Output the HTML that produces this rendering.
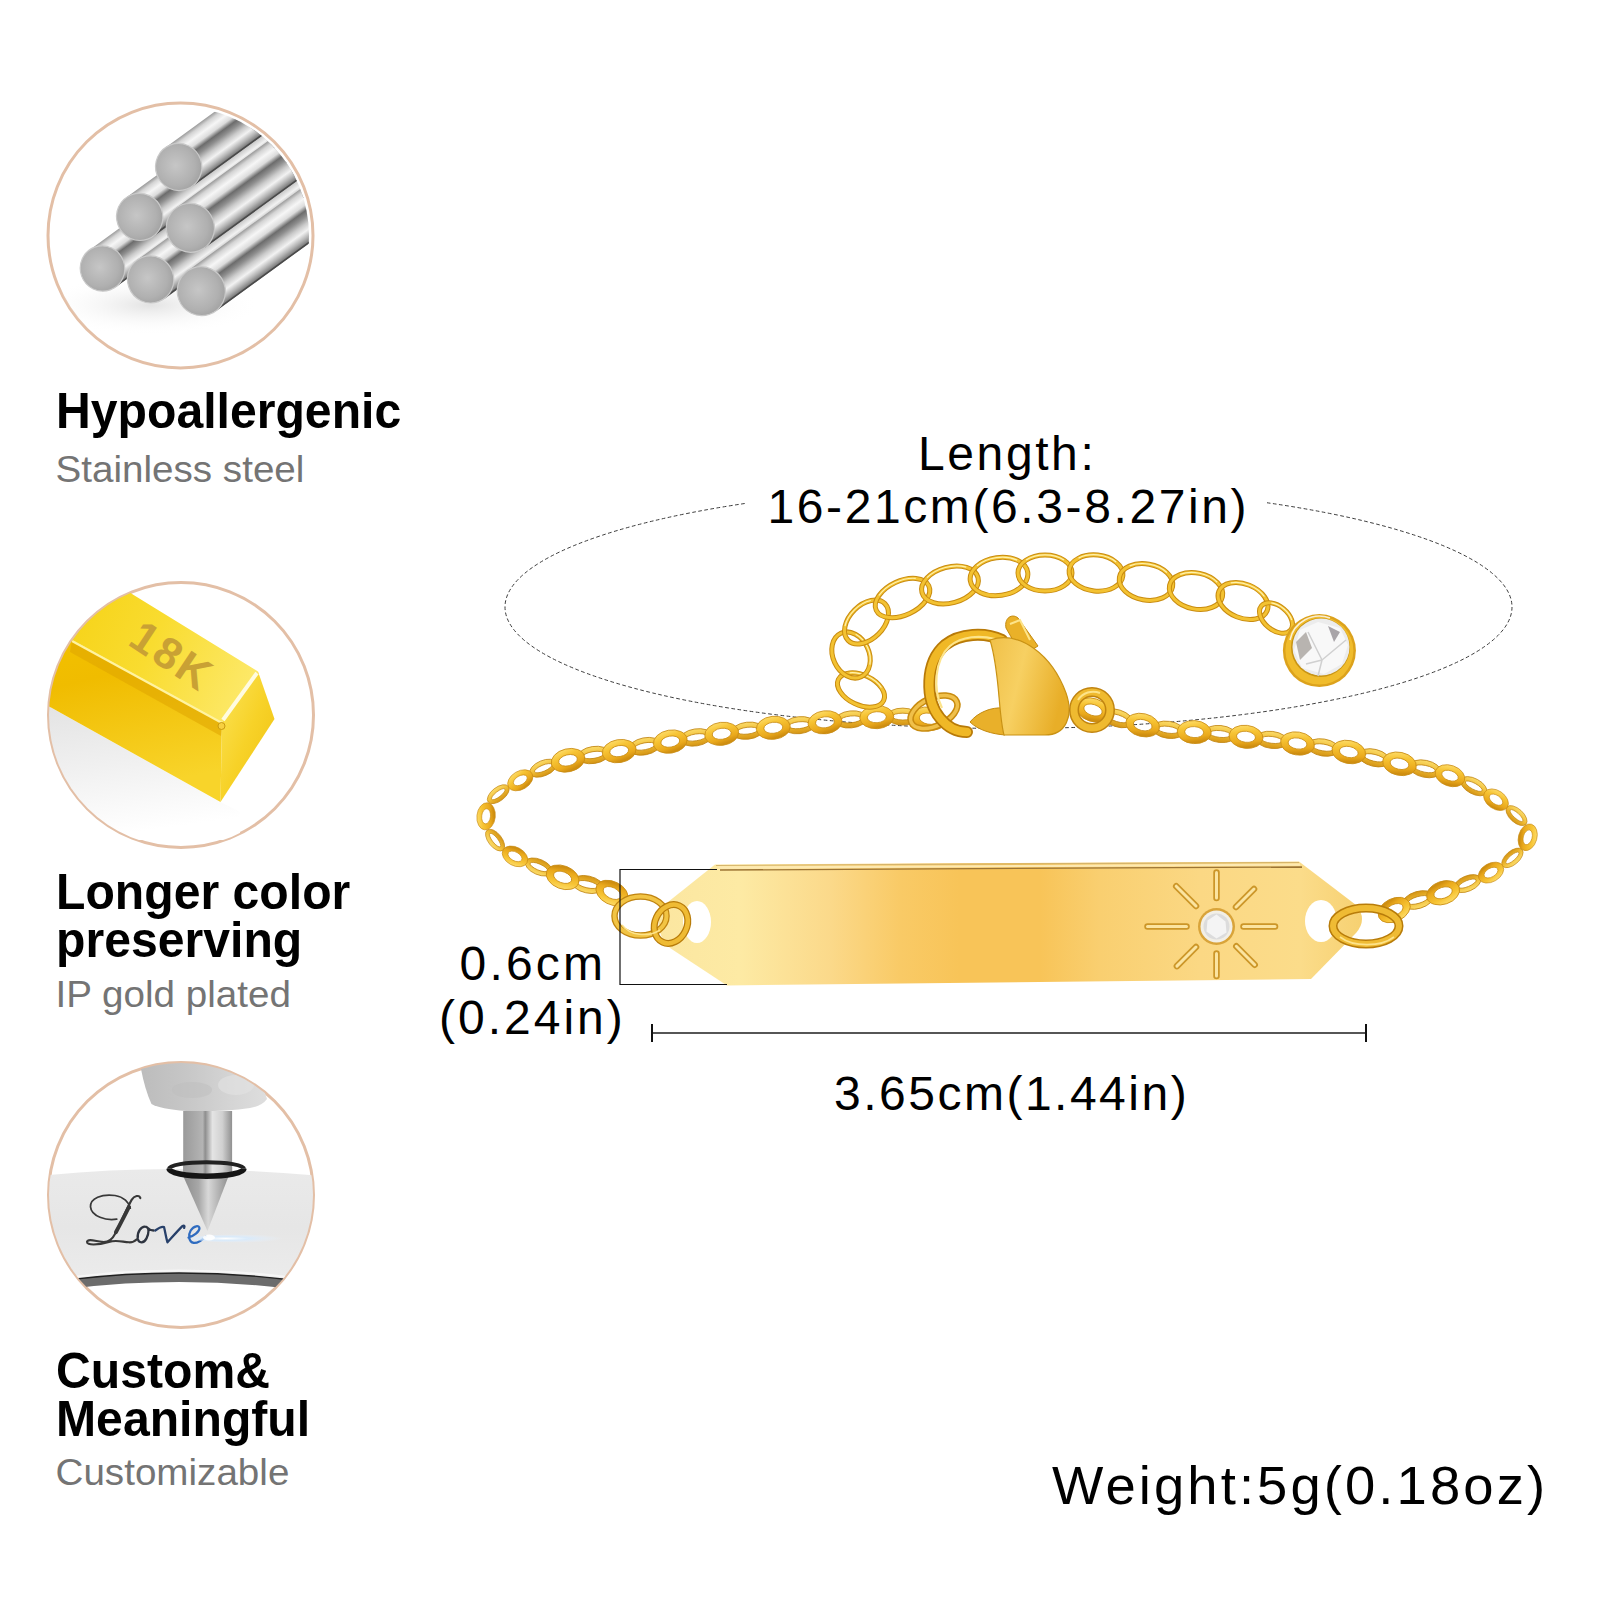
<!DOCTYPE html>
<html><head><meta charset="utf-8"><title>Bracelet</title>
<style>
html,body{margin:0;padding:0;background:#fff;}
body{width:1600px;height:1600px;overflow:hidden;position:relative;font-family:"Liberation Sans",sans-serif;}
svg{position:absolute;left:0;top:0;display:block;}
</style></head><body>
<svg width="1600" height="1600" viewBox="0 0 1600 1600">
<defs>
<linearGradient id="rodg" x1="0" y1="0" x2="0" y2="1">
 <stop offset="0" stop-color="#9a9a9a"/>
 <stop offset="0.08" stop-color="#d4d4d4"/>
 <stop offset="0.2" stop-color="#f6f6f6"/>
 <stop offset="0.32" stop-color="#dcdcdc"/>
 <stop offset="0.42" stop-color="#6c6c6c"/>
 <stop offset="0.52" stop-color="#8e8e8e"/>
 <stop offset="0.64" stop-color="#cacaca"/>
 <stop offset="0.76" stop-color="#f2f2f2"/>
 <stop offset="0.88" stop-color="#b4b4b4"/>
 <stop offset="1" stop-color="#6a6a6a"/>
</linearGradient>
<radialGradient id="faceg" cx="0.45" cy="0.45" r="0.6">
 <stop offset="0" stop-color="#c6c6c6"/>
 <stop offset="0.7" stop-color="#b0b0b0"/>
 <stop offset="1" stop-color="#a0a0a0"/>
</radialGradient>
<linearGradient id="barg" x1="652" y1="0" x2="1365" y2="0" gradientUnits="userSpaceOnUse">
 <stop offset="0" stop-color="#fbe6a0"/>
 <stop offset="0.123" stop-color="#fdeaa4"/>
 <stop offset="0.25" stop-color="#fbd98a"/>
 <stop offset="0.348" stop-color="#f9ca66"/>
 <stop offset="0.432" stop-color="#f8c458"/>
 <stop offset="0.544" stop-color="#f8c458"/>
 <stop offset="0.628" stop-color="#f9cf70"/>
 <stop offset="0.769" stop-color="#fbd884"/>
 <stop offset="0.909" stop-color="#fbdc8a"/>
 <stop offset="1" stop-color="#f6d070"/>
</linearGradient>
<linearGradient id="goldtop" x1="40" y1="600" x2="260" y2="700" gradientUnits="userSpaceOnUse">
 <stop offset="0" stop-color="#f5d010"/>
 <stop offset="0.5" stop-color="#f9dc30"/>
 <stop offset="1" stop-color="#fdea70"/>
</linearGradient>
<linearGradient id="goldfront" x1="0" y1="0" x2="0.25" y2="1">
 <stop offset="0" stop-color="#f3c200"/>
 <stop offset="0.35" stop-color="#f0bc00"/>
 <stop offset="1" stop-color="#f8d42a"/>
</linearGradient>
<linearGradient id="goldend" x1="0" y1="0" x2="1" y2="1">
 <stop offset="0" stop-color="#fbe45a"/>
 <stop offset="0.5" stop-color="#f7d228"/>
 <stop offset="1" stop-color="#efc010"/>
</linearGradient>
<radialGradient id="shadowg" cx="0.5" cy="0.5" r="0.5">
 <stop offset="0" stop-color="#d0d0d0"/>
 <stop offset="1" stop-color="#ffffff" stop-opacity="0"/>
</radialGradient>
<linearGradient id="chg" x1="0" y1="0" x2="0" y2="1">
 <stop offset="0" stop-color="#fbe070"/>
 <stop offset="0.5" stop-color="#eab020"/>
 <stop offset="1" stop-color="#c98c0a"/>
</linearGradient>
<radialGradient id="gemg" cx="0.45" cy="0.4" r="0.6">
 <stop offset="0" stop-color="#ffffff"/>
 <stop offset="0.6" stop-color="#e8e8e8"/>
 <stop offset="1" stop-color="#c8c8c8"/>
</radialGradient>
<linearGradient id="lkg" x1="0" y1="0" x2="0.3" y2="1">
 <stop offset="0" stop-color="#ffe47c"/>
 <stop offset="0.4" stop-color="#f7c434"/>
 <stop offset="0.8" stop-color="#eaa91c"/>
 <stop offset="1" stop-color="#cf8e10"/>
</linearGradient>
<linearGradient id="lkg2" x1="0" y1="0" x2="0" y2="1">
 <stop offset="0" stop-color="#fbdc6a"/>
 <stop offset="0.5" stop-color="#f0bc34"/>
 <stop offset="1" stop-color="#d49414"/>
</linearGradient>
<linearGradient id="claspg" x1="0" y1="0" x2="1" y2="0.3">
 <stop offset="0" stop-color="#f0c048"/>
 <stop offset="0.45" stop-color="#f7d062"/>
 <stop offset="1" stop-color="#e8ae28"/>
</linearGradient>
<linearGradient id="gshadow" x1="0" y1="0" x2="0.2" y2="1">
 <stop offset="0" stop-color="#e2e2e2"/>
 <stop offset="0.5" stop-color="#f0f0f0"/>
 <stop offset="1" stop-color="#ffffff"/>
</linearGradient>
<linearGradient id="bandg" x1="0" y1="0" x2="0" y2="1">
 <stop offset="0" stop-color="#eaeaea"/>
 <stop offset="0.5" stop-color="#e6e6e6"/>
 <stop offset="1" stop-color="#ececec"/>
</linearGradient>
<linearGradient id="feltg" x1="0" y1="0" x2="1" y2="0">
 <stop offset="0" stop-color="#bcbcbc"/>
 <stop offset="0.35" stop-color="#c6c6c6"/>
 <stop offset="0.7" stop-color="#d4d4d4"/>
 <stop offset="1" stop-color="#dedede"/>
</linearGradient>
<linearGradient id="cylg" x1="0" y1="0" x2="1" y2="0">
 <stop offset="0" stop-color="#9a9a9a"/>
 <stop offset="0.4" stop-color="#b4b4b4"/>
 <stop offset="0.45" stop-color="#8e8e8e"/>
 <stop offset="0.6" stop-color="#e4e4e4"/>
 <stop offset="0.8" stop-color="#d0d0d0"/>
 <stop offset="1" stop-color="#909090"/>
</linearGradient>
<linearGradient id="coneg" x1="0" y1="0" x2="1" y2="0">
 <stop offset="0" stop-color="#8a8a8a"/>
 <stop offset="0.35" stop-color="#a8a8a8"/>
 <stop offset="0.55" stop-color="#d8d8d8"/>
 <stop offset="1" stop-color="#8c8c8c"/>
</linearGradient>
<linearGradient id="glowg" x1="0" y1="0" x2="1" y2="0">
 <stop offset="0" stop-color="#9fd0ff" stop-opacity="0.9"/>
 <stop offset="0.5" stop-color="#d8ecff" stop-opacity="0.6"/>
 <stop offset="1" stop-color="#ffffff" stop-opacity="0"/>
</linearGradient>
<radialGradient id="glowr" cx="0.35" cy="0.5" r="0.6">
 <stop offset="0" stop-color="#ffffff" stop-opacity="1"/>
 <stop offset="0.4" stop-color="#d6ebff" stop-opacity="0.8"/>
 <stop offset="1" stop-color="#e8f2ff" stop-opacity="0"/>
</radialGradient>
<clipPath id="c1"><circle cx="180.5" cy="235.5" r="132"/></clipPath>
<clipPath id="c1b"><circle cx="180.5" cy="235.5" r="128.5"/></clipPath>
<clipPath id="c2"><circle cx="181" cy="715" r="132"/></clipPath>
<clipPath id="c3"><circle cx="181" cy="1195" r="132"/></clipPath>
</defs>
<rect width="1600" height="1600" fill="#fff"/>
<g>
<circle cx="180.5" cy="235.5" r="132.5" fill="#fff" stroke="#e3bfa6" stroke-width="3"/>
<g clip-path="url(#c1)"><ellipse cx="150" cy="305" rx="110" ry="30" fill="url(#shadowg)" opacity="0.6"/></g>
<g clip-path="url(#c1b)">
<g transform="translate(102.5,268.5) rotate(-36)"><rect x="0" y="-22.7" width="220" height="45.4" fill="url(#rodg)"/><line x1="0" y1="22.1" x2="220" y2="22.1" stroke="#4a4a4a" stroke-width="1.6"/></g>
<g transform="translate(139.7,216.9) rotate(-36)"><rect x="0" y="-23.6" width="220" height="47.2" fill="url(#rodg)"/><line x1="0" y1="23" x2="220" y2="23" stroke="#4a4a4a" stroke-width="1.6"/></g>
<g transform="translate(150.6,279.4) rotate(-36)"><rect x="0" y="-23.6" width="220" height="47.2" fill="url(#rodg)"/><line x1="0" y1="23" x2="220" y2="23" stroke="#4a4a4a" stroke-width="1.6"/></g>
<g transform="translate(178.7,167) rotate(-36)"><rect x="0" y="-23.6" width="220" height="47.2" fill="url(#rodg)"/><line x1="0" y1="23" x2="220" y2="23" stroke="#4a4a4a" stroke-width="1.6"/></g>
<g transform="translate(190.4,227.8) rotate(-36)"><rect x="0" y="-24.5" width="220" height="49" fill="url(#rodg)"/><line x1="0" y1="23.9" x2="220" y2="23.9" stroke="#4a4a4a" stroke-width="1.6"/></g>
<g transform="translate(201.3,291.2) rotate(-36)"><rect x="0" y="-24.5" width="220" height="49" fill="url(#rodg)"/><line x1="0" y1="23.9" x2="220" y2="23.9" stroke="#4a4a4a" stroke-width="1.6"/></g>
</g>
<ellipse cx="178.7" cy="167" rx="23.1" ry="23.6" transform="rotate(-20 178.7 167)" fill="url(#faceg)" stroke="#c9c9c9" stroke-width="1.2"/>
<ellipse cx="139.7" cy="216.9" rx="23.1" ry="23.6" transform="rotate(-20 139.7 216.9)" fill="url(#faceg)" stroke="#c9c9c9" stroke-width="1.2"/>
<ellipse cx="190.4" cy="227.8" rx="24" ry="24.5" transform="rotate(-20 190.4 227.8)" fill="url(#faceg)" stroke="#c9c9c9" stroke-width="1.2"/>
<ellipse cx="102.5" cy="268.5" rx="22.2" ry="22.7" transform="rotate(-20 102.5 268.5)" fill="url(#faceg)" stroke="#c9c9c9" stroke-width="1.2"/>
<ellipse cx="150.6" cy="279.4" rx="23.1" ry="23.6" transform="rotate(-20 150.6 279.4)" fill="url(#faceg)" stroke="#c9c9c9" stroke-width="1.2"/>
<ellipse cx="201.3" cy="291.2" rx="24" ry="24.5" transform="rotate(-20 201.3 291.2)" fill="url(#faceg)" stroke="#c9c9c9" stroke-width="1.2"/>
</g>
<circle cx="181" cy="715" r="132.5" fill="#fff" stroke="#e3bfa6" stroke-width="3"/>
<g clip-path="url(#c2)">
<path d="M40,700 L51,707.5 L220.5,802 L240,812 L240,840 L40,840 Z" fill="url(#gshadow)"/>
<polygon points="30,628 72,640 222,722.5 220.5,802 51,707.5 30,696" fill="url(#goldfront)"/>
<polygon points="72,640 222,722.5 221,736 70,652" fill="#dea400" opacity="0.55"/>
<polygon points="131.2,593.5 258,671.5 222,722.5 72,640 30,628 30,560 110,560" fill="url(#goldtop)"/>
<polygon points="222,722.5 258,671.5 274.5,719 220.5,802" fill="url(#goldend)"/>
<polyline points="72,641 222,723" stroke="#fff3a0" stroke-width="2.2" fill="none"/>
<polyline points="223,720 257,673" stroke="#fffbe0" stroke-width="4" fill="none"/>
<circle cx="221.5" cy="726" r="3.5" fill="#f7d040" stroke="#c99a10" stroke-width="1"/>
<text x="0" y="0" transform="translate(126.5,644) rotate(33.5)" font-family="Liberation Sans" font-weight="bold" font-size="44" fill="#c9a134" letter-spacing="3">18K</text>
</g>
<circle cx="181" cy="1195" r="132.5" fill="#fff" stroke="#e3bfa6" stroke-width="3"/>
<g clip-path="url(#c3)">
<path d="M40,1176 Q167,1162 322,1176 L322,1285 Q178,1266 40,1285 Z" fill="url(#bandg)"/>
<path d="M60,1281 Q178,1265 300,1281 L300,1290 Q178,1274 60,1290 Z" fill="#6c6c6c"/>
<path d="M60,1281 Q178,1265 300,1281" stroke="#202020" stroke-width="1.3" fill="none"/>
<path d="M60,1278.5 Q178,1262.5 300,1278.5" stroke="#f6f6f6" stroke-width="2" fill="none"/>
<path d="M140,1055 L240,1055 Q262,1080 267,1099 Q262,1106 250,1108 Q222,1112 186,1111 Q160,1109 151.5,1104 Q145,1090 141,1069 Z" fill="url(#feltg)"/>
<ellipse cx="192" cy="1090" rx="20" ry="8" fill="#bdbdbd" opacity="0.5"/>
<ellipse cx="236" cy="1085" rx="18" ry="10" fill="#e2e2e2" opacity="0.6"/>
<rect x="183.2" y="1111" width="48.9" height="60" fill="url(#cylg)"/>
<polygon points="182.3,1174 229.4,1174 207.5,1231" fill="url(#coneg)"/>
<path d="M169,1168.7 A37.5,6.5 0 0,1 244,1168.7" fill="none" stroke="#222" stroke-width="4"/>
<path d="M183.2,1166 L232.1,1166 L232.1,1174 L183.2,1174 Z" fill="url(#cylg)"/>
<path d="M169,1168.7 A37.5,7.5 0 0,0 244,1168.7" fill="none" stroke="#151515" stroke-width="5.5"/>
<g transform="translate(80,1185) scale(0.0875)" fill="none" stroke-linecap="round" stroke-linejoin="round"><path d="M420,390 C300,410 130,360 120,250 C115,150 250,100 400,120 C500,135 560,200 575,265" stroke="#383838" stroke-width="20"/><path d="M690,150 C680,110 620,120 590,170 C540,260 470,420 400,560 C370,620 330,660 250,650 C170,640 90,610 80,650 C75,690 200,690 330,650 C420,625 480,650 560,655 C600,657 630,640 650,620" stroke="#383838" stroke-width="24"/><path d="M560,250 C520,330 470,430 410,540" stroke="#383838" stroke-width="44"/><path d="M760,480 C700,460 650,540 660,610 C670,670 730,670 760,610 C790,550 790,490 760,480 C780,500 810,520 840,520" stroke="#2e3440" stroke-width="26"/><path d="M860,520 C900,490 930,470 960,480 C975,540 985,610 1000,655 C1050,600 1110,530 1170,470 C1190,455 1200,470 1190,490" stroke="#27406a" stroke-width="26"/><path d="M1240,600 C1300,585 1365,535 1365,495 C1365,455 1300,465 1265,520 C1235,570 1240,650 1300,662 C1350,668 1400,625 1440,585" stroke="#2f6cc0" stroke-width="26"/></g>
<ellipse cx="240" cy="1238.5" rx="48" ry="4" fill="url(#glowr)"/>
<ellipse cx="209" cy="1237.5" rx="6" ry="3" fill="#ffffff" opacity="0.9"/>
</g>
<text transform="translate(56,427.75) scale(0.950,1)" font-family="Liberation Sans" font-weight="bold" font-size="50.7" fill="#000">Hypoallergenic</text>
<text transform="translate(55.5,481.8) scale(1.058,1)" font-family="Liberation Sans" font-size="36.5" fill="#747474">Stainless steel</text>
<text transform="translate(56,908.75) scale(0.950,1)" font-family="Liberation Sans" font-weight="bold" font-size="50.7" fill="#000">Longer color</text>
<text transform="translate(56,957.2) scale(0.950,1)" font-family="Liberation Sans" font-weight="bold" font-size="50.7" fill="#000">preserving</text>
<text transform="translate(55.5,1007.4) scale(1.058,1)" font-family="Liberation Sans" font-size="36.5" fill="#747474">IP gold plated</text>
<text transform="translate(56,1388.4) scale(0.950,1)" font-family="Liberation Sans" font-weight="bold" font-size="50.7" fill="#000">Custom&amp;</text>
<text transform="translate(56,1436) scale(0.950,1)" font-family="Liberation Sans" font-weight="bold" font-size="50.7" fill="#000">Meaningful</text>
<text transform="translate(55.5,1485.1) scale(1.058,1)" font-family="Liberation Sans" font-size="36.5" fill="#747474">Customizable</text>
<ellipse cx="1008.5" cy="607" rx="503.5" ry="121.5" fill="none" stroke="#3c3c3c" stroke-width="1" stroke-dasharray="3.7 2.5"/>
<rect x="745" y="480" width="522" height="40" fill="#fff"/>
<g transform="translate(587.6,884.5) rotate(-167.6) scale(1)"><path d="M-16,0 a16,8.5 0 1,0 32,0 a16,8.5 0 1,0 -32,0 Z M-10.5,0 a10.5,3.4 0 1,1 21.0,0 a10.5,3.4 0 1,1 -21.0,0 Z" fill="url(#lkg2)" fill-rule="evenodd" stroke="#c08410" stroke-width="0.8"/></g><g transform="translate(538.8,867) rotate(-156.8) scale(0.9)"><path d="M-16,0 a16,8.5 0 1,0 32,0 a16,8.5 0 1,0 -32,0 Z M-10.5,0 a10.5,3.4 0 1,1 21.0,0 a10.5,3.4 0 1,1 -21.0,0 Z" fill="url(#lkg2)" fill-rule="evenodd" stroke="#c08410" stroke-width="0.8"/></g><g transform="translate(495.1,840.1) rotate(-128.2) scale(0.8)"><path d="M-16,0 a16,8.5 0 1,0 32,0 a16,8.5 0 1,0 -32,0 Z M-10.5,0 a10.5,3.4 0 1,1 21.0,0 a10.5,3.4 0 1,1 -21.0,0 Z" fill="url(#lkg2)" fill-rule="evenodd" stroke="#c08410" stroke-width="0.8"/></g><g transform="translate(498.3,794.2) rotate(-37.9) scale(0.8)"><path d="M-16,0 a16,8.5 0 1,0 32,0 a16,8.5 0 1,0 -32,0 Z M-10.5,0 a10.5,3.4 0 1,1 21.0,0 a10.5,3.4 0 1,1 -21.0,0 Z" fill="url(#lkg2)" fill-rule="evenodd" stroke="#c08410" stroke-width="0.8"/></g><g transform="translate(543.3,768.2) rotate(-23) scale(0.9)"><path d="M-16,0 a16,8.5 0 1,0 32,0 a16,8.5 0 1,0 -32,0 Z M-10.5,0 a10.5,3.4 0 1,1 21.0,0 a10.5,3.4 0 1,1 -21.0,0 Z" fill="url(#lkg2)" fill-rule="evenodd" stroke="#c08410" stroke-width="0.8"/></g><g transform="translate(593.5,755) rotate(-8.7) scale(1)"><path d="M-16,0 a16,8.5 0 1,0 32,0 a16,8.5 0 1,0 -32,0 Z M-10.5,0 a10.5,3.4 0 1,1 21.0,0 a10.5,3.4 0 1,1 -21.0,0 Z" fill="url(#lkg2)" fill-rule="evenodd" stroke="#c08410" stroke-width="0.8"/></g><g transform="translate(644.7,746.3) rotate(-11.1) scale(1)"><path d="M-16,0 a16,8.5 0 1,0 32,0 a16,8.5 0 1,0 -32,0 Z M-10.5,0 a10.5,3.4 0 1,1 21.0,0 a10.5,3.4 0 1,1 -21.0,0 Z" fill="url(#lkg2)" fill-rule="evenodd" stroke="#c08410" stroke-width="0.8"/></g><g transform="translate(695.9,737.4) rotate(-8.8) scale(1)"><path d="M-16,0 a16,8.5 0 1,0 32,0 a16,8.5 0 1,0 -32,0 Z M-10.5,0 a10.5,3.4 0 1,1 21.0,0 a10.5,3.4 0 1,1 -21.0,0 Z" fill="url(#lkg2)" fill-rule="evenodd" stroke="#c08410" stroke-width="0.8"/></g><g transform="translate(747.5,730.7) rotate(-6.5) scale(1)"><path d="M-16,0 a16,8.5 0 1,0 32,0 a16,8.5 0 1,0 -32,0 Z M-10.5,0 a10.5,3.4 0 1,1 21.0,0 a10.5,3.4 0 1,1 -21.0,0 Z" fill="url(#lkg2)" fill-rule="evenodd" stroke="#c08410" stroke-width="0.8"/></g><g transform="translate(799.2,725.2) rotate(-5.9) scale(1)"><path d="M-16,0 a16,8.5 0 1,0 32,0 a16,8.5 0 1,0 -32,0 Z M-10.5,0 a10.5,3.4 0 1,1 21.0,0 a10.5,3.4 0 1,1 -21.0,0 Z" fill="url(#lkg2)" fill-rule="evenodd" stroke="#c08410" stroke-width="0.8"/></g><g transform="translate(850.9,719.4) rotate(-5.8) scale(1)"><path d="M-16,0 a16,8.5 0 1,0 32,0 a16,8.5 0 1,0 -32,0 Z M-10.5,0 a10.5,3.4 0 1,1 21.0,0 a10.5,3.4 0 1,1 -21.0,0 Z" fill="url(#lkg2)" fill-rule="evenodd" stroke="#c08410" stroke-width="0.8"/></g><g transform="translate(902.8,716.6) rotate(0.6) scale(1)"><path d="M-16,0 a16,8.5 0 1,0 32,0 a16,8.5 0 1,0 -32,0 Z M-10.5,0 a10.5,3.4 0 1,1 21.0,0 a10.5,3.4 0 1,1 -21.0,0 Z" fill="url(#lkg2)" fill-rule="evenodd" stroke="#c08410" stroke-width="0.8"/></g><g transform="translate(612,893) rotate(-153.6) scale(1)"><path d="M-17,0 a17,11.5 0 1,0 34,0 a17,11.5 0 1,0 -34,0 Z M-9.5,0 a9.5,5.5 0 1,1 19.0,0 a9.5,5.5 0 1,1 -19.0,0 Z" fill="url(#lkg)" fill-rule="evenodd" stroke="#c98c14" stroke-width="0.8"/></g><g transform="translate(562.6,877.3) rotate(-158.8) scale(1)"><path d="M-17,0 a17,11.5 0 1,0 34,0 a17,11.5 0 1,0 -34,0 Z M-9.5,0 a9.5,5.5 0 1,1 19.0,0 a9.5,5.5 0 1,1 -19.0,0 Z" fill="url(#lkg)" fill-rule="evenodd" stroke="#c98c14" stroke-width="0.8"/></g><g transform="translate(515,856.4) rotate(-151.7) scale(0.8)"><path d="M-17,0 a17,11.5 0 1,0 34,0 a17,11.5 0 1,0 -34,0 Z M-9.5,0 a9.5,5.5 0 1,1 19.0,0 a9.5,5.5 0 1,1 -19.0,0 Z" fill="url(#lkg)" fill-rule="evenodd" stroke="#c98c14" stroke-width="0.8"/></g><g transform="translate(486.1,816.3) rotate(-83.8) scale(0.8)"><path d="M-17,0 a17,11.5 0 1,0 34,0 a17,11.5 0 1,0 -34,0 Z M-9.5,0 a9.5,5.5 0 1,1 19.0,0 a9.5,5.5 0 1,1 -19.0,0 Z" fill="url(#lkg)" fill-rule="evenodd" stroke="#c98c14" stroke-width="0.8"/></g><g transform="translate(520.3,780.3) rotate(-30.6) scale(0.8)"><path d="M-17,0 a17,11.5 0 1,0 34,0 a17,11.5 0 1,0 -34,0 Z M-9.5,0 a9.5,5.5 0 1,1 19.0,0 a9.5,5.5 0 1,1 -19.0,0 Z" fill="url(#lkg)" fill-rule="evenodd" stroke="#c98c14" stroke-width="0.8"/></g><g transform="translate(568,760.3) rotate(-13.6) scale(1)"><path d="M-17,0 a17,11.5 0 1,0 34,0 a17,11.5 0 1,0 -34,0 Z M-9.5,0 a9.5,5.5 0 1,1 19.0,0 a9.5,5.5 0 1,1 -19.0,0 Z" fill="url(#lkg)" fill-rule="evenodd" stroke="#c98c14" stroke-width="0.8"/></g><g transform="translate(619.2,751.1) rotate(-9.7) scale(1)"><path d="M-17,0 a17,11.5 0 1,0 34,0 a17,11.5 0 1,0 -34,0 Z M-9.5,0 a9.5,5.5 0 1,1 19.0,0 a9.5,5.5 0 1,1 -19.0,0 Z" fill="url(#lkg)" fill-rule="evenodd" stroke="#c98c14" stroke-width="0.8"/></g><g transform="translate(670.3,741.6) rotate(-9.7) scale(1)"><path d="M-17,0 a17,11.5 0 1,0 34,0 a17,11.5 0 1,0 -34,0 Z M-9.5,0 a9.5,5.5 0 1,1 19.0,0 a9.5,5.5 0 1,1 -19.0,0 Z" fill="url(#lkg)" fill-rule="evenodd" stroke="#c98c14" stroke-width="0.8"/></g><g transform="translate(721.7,733.8) rotate(-7.2) scale(1)"><path d="M-17,0 a17,11.5 0 1,0 34,0 a17,11.5 0 1,0 -34,0 Z M-9.5,0 a9.5,5.5 0 1,1 19.0,0 a9.5,5.5 0 1,1 -19.0,0 Z" fill="url(#lkg)" fill-rule="evenodd" stroke="#c98c14" stroke-width="0.8"/></g><g transform="translate(773.3,727.8) rotate(-6.2) scale(1)"><path d="M-17,0 a17,11.5 0 1,0 34,0 a17,11.5 0 1,0 -34,0 Z M-9.5,0 a9.5,5.5 0 1,1 19.0,0 a9.5,5.5 0 1,1 -19.0,0 Z" fill="url(#lkg)" fill-rule="evenodd" stroke="#c98c14" stroke-width="0.8"/></g><g transform="translate(825,722.3) rotate(-6.9) scale(1)"><path d="M-17,0 a17,11.5 0 1,0 34,0 a17,11.5 0 1,0 -34,0 Z M-9.5,0 a9.5,5.5 0 1,1 19.0,0 a9.5,5.5 0 1,1 -19.0,0 Z" fill="url(#lkg)" fill-rule="evenodd" stroke="#c98c14" stroke-width="0.8"/></g><g transform="translate(876.8,717.2) rotate(-3.4) scale(1)"><path d="M-17,0 a17,11.5 0 1,0 34,0 a17,11.5 0 1,0 -34,0 Z M-9.5,0 a9.5,5.5 0 1,1 19.0,0 a9.5,5.5 0 1,1 -19.0,0 Z" fill="url(#lkg)" fill-rule="evenodd" stroke="#c98c14" stroke-width="0.8"/></g><g transform="translate(928.7,718.7) rotate(10) scale(1)"><path d="M-17,0 a17,11.5 0 1,0 34,0 a17,11.5 0 1,0 -34,0 Z M-9.5,0 a9.5,5.5 0 1,1 19.0,0 a9.5,5.5 0 1,1 -19.0,0 Z" fill="url(#lkg)" fill-rule="evenodd" stroke="#c98c14" stroke-width="0.8"/></g>
<g transform="translate(1117.6,718.3) rotate(17.7) scale(1)"><path d="M-16,0 a16,8.5 0 1,0 32,0 a16,8.5 0 1,0 -32,0 Z M-10.5,0 a10.5,3.4 0 1,1 21.0,0 a10.5,3.4 0 1,1 -21.0,0 Z" fill="url(#lkg2)" fill-rule="evenodd" stroke="#c08410" stroke-width="0.8"/></g><g transform="translate(1168.3,729.8) rotate(7.9) scale(1)"><path d="M-16,0 a16,8.5 0 1,0 32,0 a16,8.5 0 1,0 -32,0 Z M-10.5,0 a10.5,3.4 0 1,1 21.0,0 a10.5,3.4 0 1,1 -21.0,0 Z" fill="url(#lkg2)" fill-rule="evenodd" stroke="#c08410" stroke-width="0.8"/></g><g transform="translate(1220.1,734) rotate(5.7) scale(1)"><path d="M-16,0 a16,8.5 0 1,0 32,0 a16,8.5 0 1,0 -32,0 Z M-10.5,0 a10.5,3.4 0 1,1 21.0,0 a10.5,3.4 0 1,1 -21.0,0 Z" fill="url(#lkg2)" fill-rule="evenodd" stroke="#c08410" stroke-width="0.8"/></g><g transform="translate(1271.8,739.9) rotate(7) scale(1)"><path d="M-16,0 a16,8.5 0 1,0 32,0 a16,8.5 0 1,0 -32,0 Z M-10.5,0 a10.5,3.4 0 1,1 21.0,0 a10.5,3.4 0 1,1 -21.0,0 Z" fill="url(#lkg2)" fill-rule="evenodd" stroke="#c08410" stroke-width="0.8"/></g><g transform="translate(1323.2,747.5) rotate(9.2) scale(1)"><path d="M-16,0 a16,8.5 0 1,0 32,0 a16,8.5 0 1,0 -32,0 Z M-10.5,0 a10.5,3.4 0 1,1 21.0,0 a10.5,3.4 0 1,1 -21.0,0 Z" fill="url(#lkg2)" fill-rule="evenodd" stroke="#c08410" stroke-width="0.8"/></g><g transform="translate(1374.2,757.8) rotate(13.8) scale(1)"><path d="M-16,0 a16,8.5 0 1,0 32,0 a16,8.5 0 1,0 -32,0 Z M-10.5,0 a10.5,3.4 0 1,1 21.0,0 a10.5,3.4 0 1,1 -21.0,0 Z" fill="url(#lkg2)" fill-rule="evenodd" stroke="#c08410" stroke-width="0.8"/></g><g transform="translate(1425,768.8) rotate(11.8) scale(1)"><path d="M-16,0 a16,8.5 0 1,0 32,0 a16,8.5 0 1,0 -32,0 Z M-10.5,0 a10.5,3.4 0 1,1 21.0,0 a10.5,3.4 0 1,1 -21.0,0 Z" fill="url(#lkg2)" fill-rule="evenodd" stroke="#c08410" stroke-width="0.8"/></g><g transform="translate(1473.8,786.2) rotate(28.4) scale(0.9)"><path d="M-16,0 a16,8.5 0 1,0 32,0 a16,8.5 0 1,0 -32,0 Z M-10.5,0 a10.5,3.4 0 1,1 21.0,0 a10.5,3.4 0 1,1 -21.0,0 Z" fill="url(#lkg2)" fill-rule="evenodd" stroke="#c08410" stroke-width="0.8"/></g><g transform="translate(1516.5,815.6) rotate(42.3) scale(0.8)"><path d="M-16,0 a16,8.5 0 1,0 32,0 a16,8.5 0 1,0 -32,0 Z M-10.5,0 a10.5,3.4 0 1,1 21.0,0 a10.5,3.4 0 1,1 -21.0,0 Z" fill="url(#lkg2)" fill-rule="evenodd" stroke="#c08410" stroke-width="0.8"/></g><g transform="translate(1512.4,857.9) rotate(139.3) scale(0.8)"><path d="M-16,0 a16,8.5 0 1,0 32,0 a16,8.5 0 1,0 -32,0 Z M-10.5,0 a10.5,3.4 0 1,1 21.0,0 a10.5,3.4 0 1,1 -21.0,0 Z" fill="url(#lkg2)" fill-rule="evenodd" stroke="#c08410" stroke-width="0.8"/></g><g transform="translate(1467.4,883.6) rotate(157.2) scale(0.9)"><path d="M-16,0 a16,8.5 0 1,0 32,0 a16,8.5 0 1,0 -32,0 Z M-10.5,0 a10.5,3.4 0 1,1 21.0,0 a10.5,3.4 0 1,1 -21.0,0 Z" fill="url(#lkg2)" fill-rule="evenodd" stroke="#c08410" stroke-width="0.8"/></g><g transform="translate(1418.1,900) rotate(163.4) scale(1)"><path d="M-16,0 a16,8.5 0 1,0 32,0 a16,8.5 0 1,0 -32,0 Z M-10.5,0 a10.5,3.4 0 1,1 21.0,0 a10.5,3.4 0 1,1 -21.0,0 Z" fill="url(#lkg2)" fill-rule="evenodd" stroke="#c08410" stroke-width="0.8"/></g><g transform="translate(1093,710) rotate(18.4) scale(1)"><path d="M-17,0 a17,11.5 0 1,0 34,0 a17,11.5 0 1,0 -34,0 Z M-9.5,0 a9.5,5.5 0 1,1 19.0,0 a9.5,5.5 0 1,1 -19.0,0 Z" fill="url(#lkg)" fill-rule="evenodd" stroke="#c98c14" stroke-width="0.8"/></g><g transform="translate(1142.7,725.1) rotate(13) scale(1)"><path d="M-17,0 a17,11.5 0 1,0 34,0 a17,11.5 0 1,0 -34,0 Z M-9.5,0 a9.5,5.5 0 1,1 19.0,0 a9.5,5.5 0 1,1 -19.0,0 Z" fill="url(#lkg)" fill-rule="evenodd" stroke="#c98c14" stroke-width="0.8"/></g><g transform="translate(1194.2,732.1) rotate(3.7) scale(1)"><path d="M-17,0 a17,11.5 0 1,0 34,0 a17,11.5 0 1,0 -34,0 Z M-9.5,0 a9.5,5.5 0 1,1 19.0,0 a9.5,5.5 0 1,1 -19.0,0 Z" fill="url(#lkg)" fill-rule="evenodd" stroke="#c98c14" stroke-width="0.8"/></g><g transform="translate(1246,736.8) rotate(6.6) scale(1)"><path d="M-17,0 a17,11.5 0 1,0 34,0 a17,11.5 0 1,0 -34,0 Z M-9.5,0 a9.5,5.5 0 1,1 19.0,0 a9.5,5.5 0 1,1 -19.0,0 Z" fill="url(#lkg)" fill-rule="evenodd" stroke="#c98c14" stroke-width="0.8"/></g><g transform="translate(1297.5,743.5) rotate(9) scale(1)"><path d="M-17,0 a17,11.5 0 1,0 34,0 a17,11.5 0 1,0 -34,0 Z M-9.5,0 a9.5,5.5 0 1,1 19.0,0 a9.5,5.5 0 1,1 -19.0,0 Z" fill="url(#lkg)" fill-rule="evenodd" stroke="#c98c14" stroke-width="0.8"/></g><g transform="translate(1348.8,752) rotate(11.7) scale(1)"><path d="M-17,0 a17,11.5 0 1,0 34,0 a17,11.5 0 1,0 -34,0 Z M-9.5,0 a9.5,5.5 0 1,1 19.0,0 a9.5,5.5 0 1,1 -19.0,0 Z" fill="url(#lkg)" fill-rule="evenodd" stroke="#c98c14" stroke-width="0.8"/></g><g transform="translate(1399.5,763.8) rotate(12.2) scale(1)"><path d="M-17,0 a17,11.5 0 1,0 34,0 a17,11.5 0 1,0 -34,0 Z M-9.5,0 a9.5,5.5 0 1,1 19.0,0 a9.5,5.5 0 1,1 -19.0,0 Z" fill="url(#lkg)" fill-rule="evenodd" stroke="#c98c14" stroke-width="0.8"/></g><g transform="translate(1450,775.7) rotate(19.5) scale(0.9)"><path d="M-17,0 a17,11.5 0 1,0 34,0 a17,11.5 0 1,0 -34,0 Z M-9.5,0 a9.5,5.5 0 1,1 19.0,0 a9.5,5.5 0 1,1 -19.0,0 Z" fill="url(#lkg)" fill-rule="evenodd" stroke="#c98c14" stroke-width="0.8"/></g><g transform="translate(1496,799.7) rotate(34.3) scale(0.8)"><path d="M-17,0 a17,11.5 0 1,0 34,0 a17,11.5 0 1,0 -34,0 Z M-9.5,0 a9.5,5.5 0 1,1 19.0,0 a9.5,5.5 0 1,1 -19.0,0 Z" fill="url(#lkg)" fill-rule="evenodd" stroke="#c98c14" stroke-width="0.8"/></g><g transform="translate(1527.7,837.3) rotate(105.5) scale(0.8)"><path d="M-17,0 a17,11.5 0 1,0 34,0 a17,11.5 0 1,0 -34,0 Z M-9.5,0 a9.5,5.5 0 1,1 19.0,0 a9.5,5.5 0 1,1 -19.0,0 Z" fill="url(#lkg)" fill-rule="evenodd" stroke="#c98c14" stroke-width="0.8"/></g><g transform="translate(1491,872.6) rotate(150.3) scale(0.8)"><path d="M-17,0 a17,11.5 0 1,0 34,0 a17,11.5 0 1,0 -34,0 Z M-9.5,0 a9.5,5.5 0 1,1 19.0,0 a9.5,5.5 0 1,1 -19.0,0 Z" fill="url(#lkg)" fill-rule="evenodd" stroke="#c98c14" stroke-width="0.8"/></g><g transform="translate(1443.1,892.8) rotate(161.4) scale(1)"><path d="M-17,0 a17,11.5 0 1,0 34,0 a17,11.5 0 1,0 -34,0 Z M-9.5,0 a9.5,5.5 0 1,1 19.0,0 a9.5,5.5 0 1,1 -19.0,0 Z" fill="url(#lkg)" fill-rule="evenodd" stroke="#c98c14" stroke-width="0.8"/></g><g transform="translate(1394.2,910) rotate(153.8) scale(1)"><path d="M-17,0 a17,11.5 0 1,0 34,0 a17,11.5 0 1,0 -34,0 Z M-9.5,0 a9.5,5.5 0 1,1 19.0,0 a9.5,5.5 0 1,1 -19.0,0 Z" fill="url(#lkg)" fill-rule="evenodd" stroke="#c98c14" stroke-width="0.8"/></g>
<g transform="translate(861,690) rotate(25)"><ellipse rx="25" ry="15" fill="none" stroke="#c98c10" stroke-width="5"/><ellipse rx="25" ry="15" fill="none" stroke="#f3c232" stroke-width="3"/><path d="M-17.5,-10.8 A25,15 0 0,1 17.5,-10.8" fill="none" stroke="#fff2b0" stroke-width="1.2"/></g>
<g transform="translate(851,655) rotate(65)"><ellipse rx="24" ry="18" fill="none" stroke="#c98c10" stroke-width="5"/><ellipse rx="24" ry="18" fill="none" stroke="#f3c232" stroke-width="3"/><path d="M-16.8,-13 A24,18 0 0,1 16.8,-13" fill="none" stroke="#fff2b0" stroke-width="1.2"/></g>
<g transform="translate(866.5,622) rotate(-45)"><ellipse rx="26" ry="17" fill="none" stroke="#c98c10" stroke-width="5"/><ellipse rx="26" ry="17" fill="none" stroke="#f3c232" stroke-width="3"/><path d="M-18.2,-12.2 A26,17 0 0,1 18.2,-12.2" fill="none" stroke="#fff2b0" stroke-width="1.2"/></g>
<g transform="translate(902.5,598) rotate(-25)"><ellipse rx="29" ry="17" fill="none" stroke="#c98c10" stroke-width="5"/><ellipse rx="29" ry="17" fill="none" stroke="#f3c232" stroke-width="3"/><path d="M-20.3,-12.2 A29,17 0 0,1 20.3,-12.2" fill="none" stroke="#fff2b0" stroke-width="1.2"/></g>
<g transform="translate(950,585) rotate(-15)"><ellipse rx="29" ry="18" fill="none" stroke="#c98c10" stroke-width="5"/><ellipse rx="29" ry="18" fill="none" stroke="#f3c232" stroke-width="3"/><path d="M-20.3,-13 A29,18 0 0,1 20.3,-13" fill="none" stroke="#fff2b0" stroke-width="1.2"/></g>
<g transform="translate(999,576.5) rotate(-8)"><ellipse rx="29" ry="19" fill="none" stroke="#c98c10" stroke-width="5"/><ellipse rx="29" ry="19" fill="none" stroke="#f3c232" stroke-width="3"/><path d="M-20.3,-13.7 A29,19 0 0,1 20.3,-13.7" fill="none" stroke="#fff2b0" stroke-width="1.2"/></g>
<g transform="translate(1045,573) rotate(0)"><ellipse rx="27" ry="18" fill="none" stroke="#c98c10" stroke-width="5"/><ellipse rx="27" ry="18" fill="none" stroke="#f3c232" stroke-width="3"/><path d="M-18.9,-13 A27,18 0 0,1 18.9,-13" fill="none" stroke="#fff2b0" stroke-width="1.2"/></g>
<g transform="translate(1096,573) rotate(6)"><ellipse rx="27" ry="18" fill="none" stroke="#c98c10" stroke-width="5"/><ellipse rx="27" ry="18" fill="none" stroke="#f3c232" stroke-width="3"/><path d="M-18.9,-13 A27,18 0 0,1 18.9,-13" fill="none" stroke="#fff2b0" stroke-width="1.2"/></g>
<g transform="translate(1146,582) rotate(10)"><ellipse rx="27" ry="18" fill="none" stroke="#c98c10" stroke-width="5"/><ellipse rx="27" ry="18" fill="none" stroke="#f3c232" stroke-width="3"/><path d="M-18.9,-13 A27,18 0 0,1 18.9,-13" fill="none" stroke="#fff2b0" stroke-width="1.2"/></g>
<g transform="translate(1196,591) rotate(12)"><ellipse rx="27" ry="18" fill="none" stroke="#c98c10" stroke-width="5"/><ellipse rx="27" ry="18" fill="none" stroke="#f3c232" stroke-width="3"/><path d="M-18.9,-13 A27,18 0 0,1 18.9,-13" fill="none" stroke="#fff2b0" stroke-width="1.2"/></g>
<g transform="translate(1243,601) rotate(22)"><ellipse rx="26" ry="17" fill="none" stroke="#c98c10" stroke-width="5"/><ellipse rx="26" ry="17" fill="none" stroke="#f3c232" stroke-width="3"/><path d="M-18.2,-12.2 A26,17 0 0,1 18.2,-12.2" fill="none" stroke="#fff2b0" stroke-width="1.2"/></g>
<g transform="translate(1276,618) rotate(40)"><ellipse rx="19" ry="12" fill="none" stroke="#c98c10" stroke-width="5"/><ellipse rx="19" ry="12" fill="none" stroke="#f3c232" stroke-width="3"/><path d="M-13.3,-8.6 A19,12 0 0,1 13.3,-8.6" fill="none" stroke="#fff2b0" stroke-width="1.2"/></g>
<circle cx="1319.4" cy="650.6" r="36.5" fill="#dca21c"/>
<circle cx="1319.4" cy="650.6" r="34" fill="#f0bc2c"/>
<circle cx="1320.5" cy="647.5" r="29.5" fill="#c89414"/>
<circle cx="1321" cy="647" r="28.5" fill="#ececec"/>
<path d="M1300,630 L1318,622 L1340,628 L1348,645 L1342,664 L1324,674 L1302,668 L1294,650 Z" fill="#f8f8f8"/>
<path d="M1296,642 L1306,632 L1312,648 L1300,660 Z" fill="#b8b4b0"/>
<path d="M1328,626 L1340,632 L1334,642 Z" fill="#a8a4a8"/>
<path d="M1308,632 L1322,660 M1322,660 L1346,640 M1322,660 L1318,676 M1306,664 L1322,660" stroke="#d0d0d0" stroke-width="1.5" fill="none"/>
<path d="M1290,640 A30,30 0 0,1 1330,618" fill="none" stroke="#fff" stroke-width="1.5" opacity="0.8"/>
<ellipse cx="934" cy="712" rx="25" ry="14" transform="rotate(-25 934 712)" fill="none" stroke="#c98c10" stroke-width="6.5"/>
<ellipse cx="934" cy="712" rx="25" ry="14" transform="rotate(-25 934 712)" fill="none" stroke="#f0c04a" stroke-width="3.5"/>
<path d="M1002,640 C985,632 960,633 945,645 C925,662 925,700 940,718 C948,728 958,732 967,732" fill="none" stroke="#b87a08" stroke-width="12" stroke-linecap="round"/>
<path d="M1002,640 C985,632 960,633 945,645 C925,662 925,700 940,718 C948,728 958,732 967,732" fill="none" stroke="#f0b826" stroke-width="8.5" stroke-linecap="round"/>
<path d="M995,639 C980,635 962,636 950,646 C934,660 933,690 942,708" fill="none" stroke="#fde48a" stroke-width="2.2"/>
<path d="M1006,628 C1004,618 1012,613 1018,618 L1038,646 L1022,656 Z" fill="#eab128" stroke="#c48a10" stroke-width="1"/>
<path d="M1010,624 L1020,620 L1030,640" fill="none" stroke="#fde48a" stroke-width="2"/>
<path d="M970,722 C978,712 992,707 1003,708 L1005,735 C992,734 978,730 970,722 Z" fill="#e9b02a" stroke="#c48a10" stroke-width="1"/>
<path d="M990,640 C1020,630 1052,655 1066,693 C1074,716 1066,735 1045,735 L1004,735 C998,712 1000,672 990,640 Z" fill="url(#claspg)" stroke="#c99214" stroke-width="1.2"/>
<circle cx="1092" cy="710" r="18" fill="none" stroke="#c08410" stroke-width="10"/>
<circle cx="1092" cy="710" r="18" fill="none" stroke="#efba30" stroke-width="7"/>
<path d="M1078,700 A18,18 0 0,1 1100,693" fill="none" stroke="#fde48a" stroke-width="2"/>
<path d="M715,864.5 L1299,861.5 L1356,905 Q1368,919 1356,933 L1311,979 L727,985.5 L670,948 Q648,925 668,902 Z" fill="url(#barg)"/>
<path d="M716,865.5 L1299,862.5" stroke="#d6b46a" stroke-width="1.2" fill="none"/>
<path d="M718,867.6 L1300,864.6" stroke="#fde9b2" stroke-width="2.2" fill="none"/>
<path d="M720,870 L1302,867" stroke="#9c7434" stroke-width="1.3" fill="none"/>
<ellipse cx="697" cy="922" rx="14" ry="21" fill="#fff"/>
<ellipse cx="1321" cy="921" rx="16" ry="21" fill="#fff"/>
<ellipse cx="640.5" cy="916" rx="26" ry="19.5" fill="none" stroke="#c08410" stroke-width="6.5"/>
<ellipse cx="640.5" cy="916" rx="26" ry="19.5" fill="none" stroke="#f2c444" stroke-width="4"/>
<ellipse cx="1366" cy="926" rx="33" ry="18" fill="none" stroke="#b87c0a" stroke-width="9"/>
<ellipse cx="1366" cy="926" rx="33" ry="18" fill="none" stroke="#efbb34" stroke-width="6"/>
<path d="M1340,937 A33,18 0 0,0 1394,937" fill="none" stroke="#fde38a" stroke-width="1.6"/>
<ellipse cx="671" cy="924" rx="16" ry="20" fill="none" stroke="#b87c0a" stroke-width="7" transform="rotate(25 671 924)"/>
<ellipse cx="671" cy="924" rx="16" ry="20" fill="none" stroke="#efbb34" stroke-width="4.5" transform="rotate(25 671 924)"/>
<path d="M622,925 A25,19 0 0,0 660,930" fill="none" stroke="#fde38a" stroke-width="1.5"/>
<line x1="1186.5" y1="926.5" x2="1147.5" y2="926.5" stroke="#cc9628" stroke-width="6.5" stroke-linecap="round"/>
<line x1="1186.5" y1="926.5" x2="1147.5" y2="926.5" stroke="#fbe4a0" stroke-width="3" stroke-linecap="round"/>
<line x1="1243.5" y1="926.5" x2="1275" y2="926.5" stroke="#cc9628" stroke-width="6.5" stroke-linecap="round"/>
<line x1="1243.5" y1="926.5" x2="1275" y2="926.5" stroke="#fbe4a0" stroke-width="3" stroke-linecap="round"/>
<line x1="1216.5" y1="898" x2="1216.5" y2="872.5" stroke="#cc9628" stroke-width="6.5" stroke-linecap="round"/>
<line x1="1216.5" y1="898" x2="1216.5" y2="872.5" stroke="#fbe4a0" stroke-width="3" stroke-linecap="round"/>
<line x1="1216.5" y1="953.5" x2="1216.5" y2="976" stroke="#cc9628" stroke-width="6.5" stroke-linecap="round"/>
<line x1="1216.5" y1="953.5" x2="1216.5" y2="976" stroke="#fbe4a0" stroke-width="3" stroke-linecap="round"/>
<line x1="1196" y1="906" x2="1176.2" y2="886.2" stroke="#cc9628" stroke-width="6.5" stroke-linecap="round"/>
<line x1="1196" y1="906" x2="1176.2" y2="886.2" stroke="#fbe4a0" stroke-width="3" stroke-linecap="round"/>
<line x1="1236" y1="907" x2="1254" y2="889" stroke="#cc9628" stroke-width="6.5" stroke-linecap="round"/>
<line x1="1236" y1="907" x2="1254" y2="889" stroke="#fbe4a0" stroke-width="3" stroke-linecap="round"/>
<line x1="1196" y1="947" x2="1176.9" y2="966.1" stroke="#cc9628" stroke-width="6.5" stroke-linecap="round"/>
<line x1="1196" y1="947" x2="1176.9" y2="966.1" stroke="#fbe4a0" stroke-width="3" stroke-linecap="round"/>
<line x1="1236.3" y1="946.3" x2="1254.7" y2="964.7" stroke="#cc9628" stroke-width="6.5" stroke-linecap="round"/>
<line x1="1236.3" y1="946.3" x2="1254.7" y2="964.7" stroke="#fbe4a0" stroke-width="3" stroke-linecap="round"/>
<circle cx="1216.5" cy="926.5" r="18.5" fill="#d9a43a"/>
<circle cx="1216.5" cy="926.5" r="16" fill="#f2efe6"/>
<circle cx="1216.5" cy="926.5" r="13" fill="#dcdcdc"/>
<path d="M1207.5,920.5 L1216.5,914.5 L1225.5,921.5 L1226.5,932.5 L1216.5,938.5 L1206.5,931.5 Z" fill="#f4f4f4"/>
<polyline points="717,869.5 620,869.5 620,984.5 727,984.5" fill="none" stroke="#111" stroke-width="1.2"/>
<line x1="652" y1="1033" x2="1366" y2="1033" stroke="#1e1e1e" stroke-width="1.6"/>
<line x1="652" y1="1024" x2="652" y2="1042" stroke="#111" stroke-width="2"/>
<line x1="1366" y1="1024" x2="1366" y2="1042" stroke="#111" stroke-width="2"/>
<text x="918" y="470.4" font-family="Liberation Sans" font-size="48" fill="#000" letter-spacing="2.6">Length:</text>
<text x="767.5" y="523.3" font-family="Liberation Sans" font-size="48" fill="#000" letter-spacing="2.6">16-21cm(6.3-8.27in)</text>
<text x="459.5" y="979.9" font-family="Liberation Sans" font-size="48" fill="#000" letter-spacing="3.2">0.6cm</text>
<text x="439" y="1034.3" font-family="Liberation Sans" font-size="48" fill="#000" letter-spacing="3.0">(0.24in)</text>
<text x="834" y="1109.9" font-family="Liberation Sans" font-size="48" fill="#000" letter-spacing="2.5">3.65cm(1.44in)</text>
<text x="1052" y="1503.6" font-family="Liberation Sans" font-size="54.4" fill="#000" letter-spacing="3.1">Weight:5g(0.18oz)</text>
</svg>
</body></html>
